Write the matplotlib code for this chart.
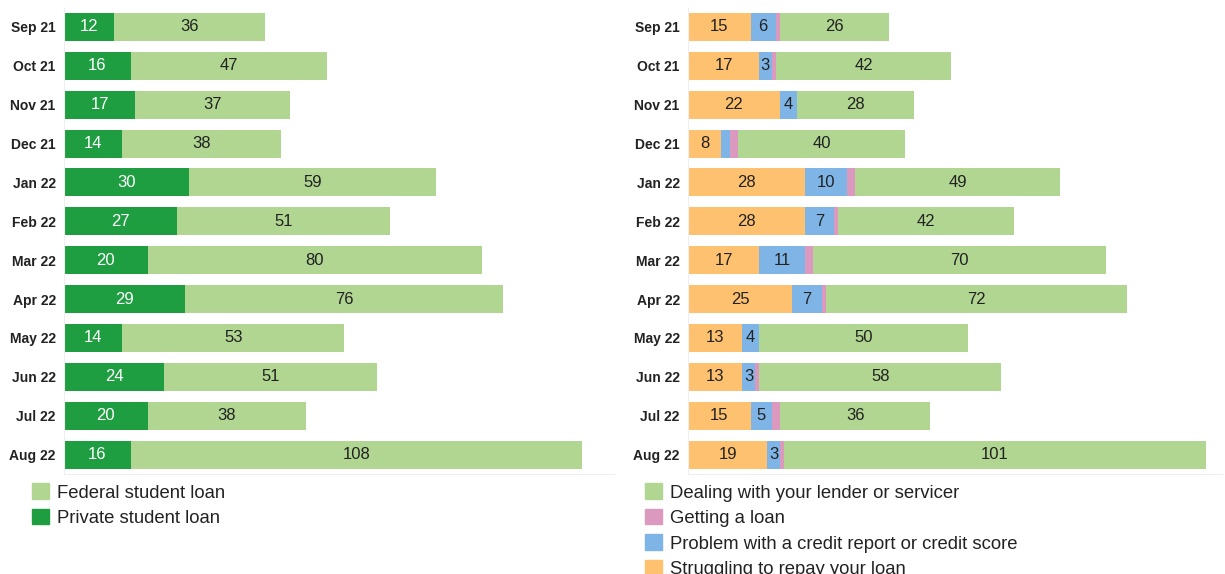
import matplotlib.pyplot as plt
from matplotlib.patches import Patch

plt.rcParams['font.family'] = ['Liberation Sans', 'DejaVu Sans']

months = ["Sep 21", "Oct 21", "Nov 21", "Dec 21", "Jan 22", "Feb 22",
          "Mar 22", "Apr 22", "May 22", "Jun 22", "Jul 22", "Aug 22"]

# left panel: loan type
private_loan = [12, 16, 17, 14, 30, 27, 20, 29, 14, 24, 20, 16]
federal_loan = [36, 47, 37, 38, 59, 51, 80, 76, 53, 51, 38, 108]

# right panel: issue
struggling = [15, 17, 22, 8, 28, 28, 17, 25, 13, 13, 15, 19]
credit_report = [6, 3, 4, 2, 10, 7, 11, 7, 4, 3, 5, 3]
getting_loan = [1, 1, 0, 2, 2, 1, 2, 1, 0, 1, 2, 1]
dealing_lender = [26, 42, 28, 40, 49, 42, 70, 72, 50, 58, 36, 101]

C_DARK = "#1f9e41"
C_LIGHT = "#b0d692"
C_ORANGE = "#fdc170"
C_BLUE = "#7fb5e6"
C_PINK = "#dc99c0"

W, H = 1225, 574
fig = plt.figure(figsize=(W / 100, H / 100), dpi=100)

def px_axes(x0, x1, y0, y1):
    return fig.add_axes([x0 / W, 1 - y1 / H, (x1 - x0) / W, (y1 - y0) / H])

scale = 518 / 124  # px per unit
axL = px_axes(64, 614, 7.5, 474)
axR = px_axes(688, 1222, 7.5, 474)
axL.set_xlim(0, 550 / scale)
axR.set_xlim(0, 534 / scale)

ypos = list(range(len(months)))
bh = 0.72

def stack(ax, series, colors, txtcolors):
    left = [0] * len(months)
    for vals, col, tc in zip(series, colors, txtcolors):
        ax.barh(ypos, vals, left=left, height=bh, color=col, edgecolor='none')
        for i, v in enumerate(vals):
            if v >= 3:
                ax.text(left[i] + v / 2, i, str(v), ha='center', va='center',
                        fontsize=12, color=tc)
        left = [l + v for l, v in zip(left, vals)]

stack(axL, [private_loan, federal_loan], [C_DARK, C_LIGHT], ['white', '#222222'])
stack(axR, [struggling, credit_report, getting_loan, dealing_lender],
      [C_ORANGE, C_BLUE, C_PINK, C_LIGHT], ['#222222'] * 4)

for ax in (axL, axR):
    ax.set_ylim(len(months) - 0.5, -0.5)
    ax.set_yticks(ypos)
    ax.set_yticklabels(months, fontsize=10, fontweight='bold', color='#222222')
    ax.tick_params(axis='y', length=0, pad=6)
    ax.set_xticks([])
    for s in ('top', 'right'):
        ax.spines[s].set_visible(False)
    ax.spines['left'].set_color('#eeeeee')
    ax.spines['bottom'].set_color('#eeeeee')

legL = [Patch(color=C_LIGHT, label="Federal student loan"),
        Patch(color=C_DARK, label="Private student loan")]
legR = [Patch(color=C_LIGHT, label="Dealing with your lender or servicer"),
        Patch(color=C_PINK, label="Getting a loan"),
        Patch(color=C_BLUE, label="Problem with a credit report or credit score"),
        Patch(color=C_ORANGE, label="Struggling to repay your loan")]

for handles, x in ((legL, 25), (legR, 638)):
    fig.legend(handles=handles, loc='upper left', bbox_to_anchor=(x / W, 1 - 476 / H),
               frameon=False, fontsize=13.3, handlelength=0.92, handleheight=0.92,
               handletextpad=0.4, labelspacing=0.4, borderaxespad=0, labelcolor='#222222')

fig.savefig("out.png", dpi=100)
